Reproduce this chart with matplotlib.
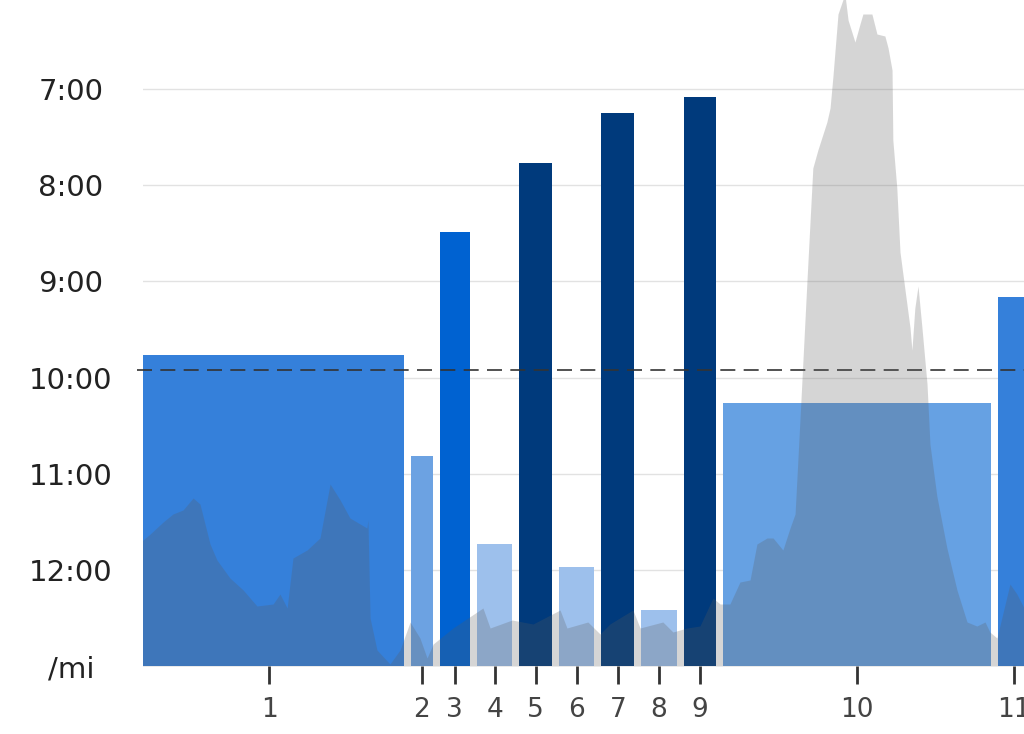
import numpy as np
import matplotlib
matplotlib.use("Agg")
import matplotlib.pyplot as plt

# lap data: distance (mi) and pace (seconds per mile)
lap_dist = [1.04, 0.11, 0.14, 0.16, 0.15, 0.16, 0.15, 0.16, 0.15, 1.035, 0.125]
lap_pace = [586, 649, 509, 704, 466, 718, 435, 745, 425, 616, 550]
lap_colors = ["#3580DA", "#6CA2E2", "#0062D1", "#9DC0EC", "#003A7C", "#9DC0EC",
              "#003A7C", "#9DC0EC", "#003A7C", "#66A1E3", "#3580DA"]
lap_labels = [str(i) for i in range(1, 12)]
avg_pace = 595

# elevation profile (distance mi, elevation ft)
elev_dist = [0.000, 0.030, 0.057, 0.106, 0.143, 0.181, 0.219, 0.245, 0.283, 0.309, 0.358,
             0.408, 0.460, 0.521, 0.547, 0.574, 0.596, 0.649, 0.698, 0.736, 0.774, 0.811,
             0.875, 0.879, 0.887, 0.913, 0.962, 1.000, 1.038, 1.075, 1.102, 1.125, 1.200,
             1.313, 1.340, 1.423, 1.502, 1.604, 1.630, 1.709, 1.755, 1.792, 1.879, 1.906,
             1.992, 2.030, 2.083, 2.132, 2.181, 2.208, 2.245, 2.283, 2.321, 2.347, 2.385,
             2.408, 2.445, 2.472, 2.491, 2.509, 2.536, 2.558, 2.577, 2.611, 2.623, 2.634,
             2.653, 2.679, 2.691, 2.717, 2.736, 2.747, 2.781, 2.800, 2.830, 2.842, 2.857,
             2.860, 2.875, 2.887, 2.906, 2.925, 2.932, 2.943, 2.955, 2.970, 2.989, 3.000,
             3.026, 3.064, 3.102, 3.140, 3.177, 3.208, 3.226, 3.253, 3.302, 3.328, 3.355]
elev_ft = [60, 63, 66, 72, 76, 78, 84, 81, 61, 53, 44,
           38, 30, 31, 36, 29, 54, 58, 64, 91, 83, 74,
           69, 73, 24, 8, 1, 8, 22, 14, 4, 11, 19,
           29, 19, 23, 21, 28, 19, 22, 16, 21, 28, 19,
           22, 17, 19, 20, 34, 31, 31, 42, 43, 61, 64,
           64, 58, 69, 76, 122, 193, 249, 258, 272, 279, 295,
           326, 336, 323, 312, 321, 326, 326, 316, 315, 309, 298,
           263, 239, 207, 188, 169, 158, 179, 190, 169, 141, 111,
           85, 59, 38, 22, 20, 22, 17, 14, 41, 36, 29]

yticks = [420, 480, 540, 600, 660, 720, 780]
ytick_labels = ["7:00", "8:00", "9:00", "10:00", "11:00", "12:00", "/mi"]

gap = 0.026
starts = np.concatenate([[0], np.cumsum(lap_dist)[:-1]])
widths = np.array(lap_dist) - gap
widths[-1] = lap_dist[-1]
centers = starts + widths / 2
bottom = 780

fig = plt.figure(figsize=(10.24, 7.34), dpi=100)
ax = fig.add_axes([143 / 1024, 68 / 734, 881 / 1024, 666 / 734])

for y in yticks[:-1]:
    ax.axhline(y, color="#E2E2E2", lw=1, zorder=0)

ax.bar(starts, [p - bottom for p in lap_pace], width=widths, bottom=bottom,
       align="edge", color=lap_colors, zorder=2)

ax.axhline(avg_pace, xmin=-0.007, xmax=1, color="#333333", lw=1.2,
           dashes=(9, 5), zorder=3, clip_on=False)

ax.set_xlim(0.030, 3.355)
ax.set_ylim(bottom, 364.4)
ax.set_yticks(yticks)
ax.set_yticklabels(ytick_labels)
ax.set_xticks(centers)
ax.set_xticklabels(lap_labels)
ax.tick_params(axis="y", length=0, pad=52, labelsize=21, labelcolor="#222222")
for lbl in ax.get_yticklabels():
    lbl.set_horizontalalignment("center")
ax.tick_params(axis="x", length=13, width=2, color="#333333", pad=9,
               labelsize=19, labelcolor="#444444")
for s in ax.spines.values():
    s.set_visible(False)

# elevation overlay
ax2 = ax.twinx()
ax2.fill_between(elev_dist, 0, elev_ft, color="#5B5B5B", alpha=0.25, lw=0, zorder=4)
ax2.set_ylim(0, 333)
ax2.set_xlim(0.030, 3.355)
ax2.axis("off")

fig.savefig("out.png", dpi=100)
